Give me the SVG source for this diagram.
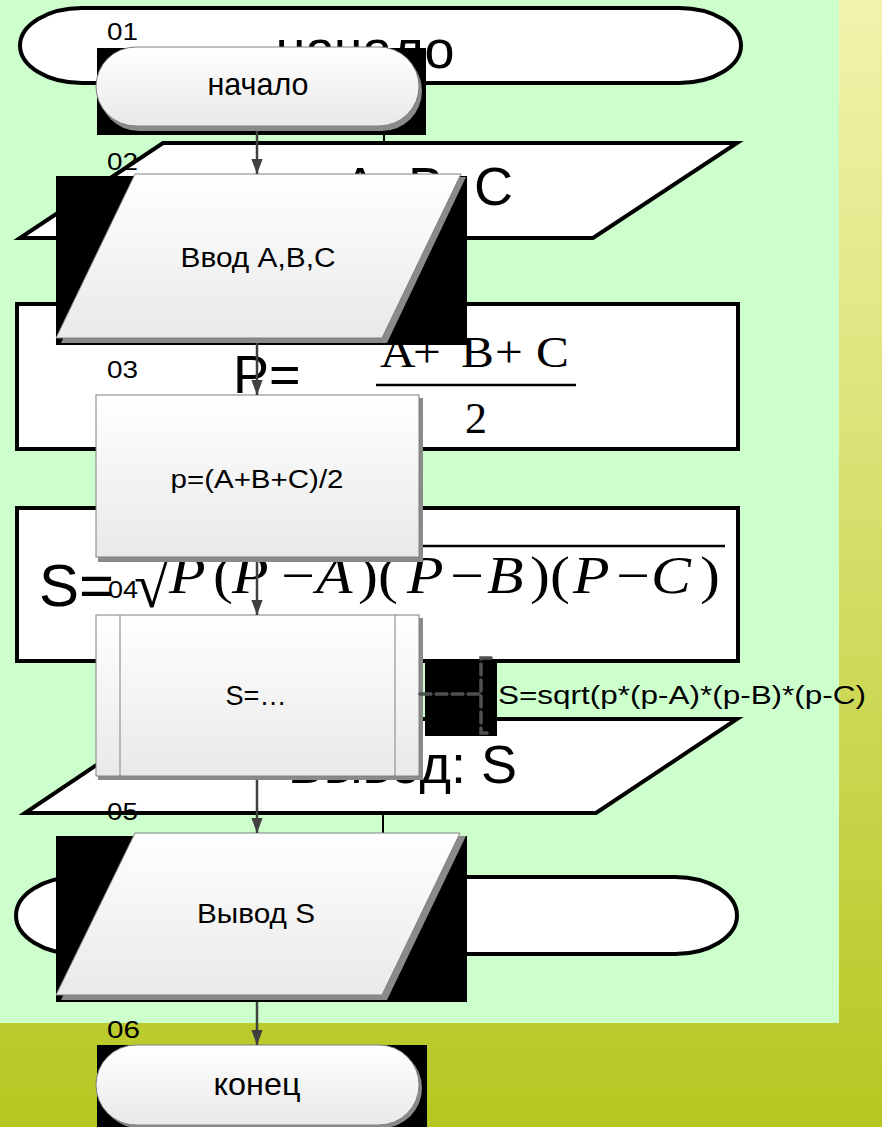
<svg xmlns="http://www.w3.org/2000/svg" width="882" height="1127" viewBox="0 0 882 1127">
<defs>
<linearGradient id="side" x1="0" y1="0" x2="0" y2="1">
<stop offset="0" stop-color="#f3f3ad"/>
<stop offset="1" stop-color="#b6c721"/>
</linearGradient>
<linearGradient id="face" x1="0" y1="0" x2="0" y2="1">
<stop offset="0" stop-color="#ffffff"/>
<stop offset="1" stop-color="#e9e9e9"/>
</linearGradient>
<marker id="arr" markerWidth="15" markerHeight="20" refX="20" refY="7.5" orient="auto" markerUnits="userSpaceOnUse" viewBox="0 0 20 15">
<path d="M0,0 L20,7.5 L0,15 Z" fill="#404040"/>
</marker>
<style>
.back{fill:#fff;stroke:#000;stroke-width:4}
.big{font-family:"Liberation Sans",Arial,sans-serif;font-size:54px;fill:#000}
.serif{font-family:"Liberation Serif","Times New Roman",serif;fill:#000}
.lbl{font-family:"Liberation Sans",Arial,sans-serif;font-size:24px;fill:#000}
.ft{font-family:"Liberation Sans",Arial,sans-serif;fill:#000;text-anchor:middle}
.face{fill:url(#face);stroke:#808080;stroke-width:1}
.shadow{fill:#8a8a8a}
.conn{stroke:#404040;stroke-width:2.5;fill:none}
.bconn{stroke:#000;stroke-width:2;fill:none}
.dash{stroke:#505050;stroke-width:3.5;fill:none;stroke-dasharray:11,5;stroke-linecap:round}
</style>
</defs>
<rect x="0" y="0" width="882" height="1127" fill="url(#side)"/>
<rect x="0" y="0" width="839" height="1023" fill="#ccffcc"/>

<g id="back-start">
<rect class="back" x="20" y="8" width="721" height="75" rx="62" ry="37.5"/>
<text class="big" x="365" y="68" text-anchor="middle">начало</text>
</g>
<g id="back-input">
<polygon class="back" points="163,143 737,143 593,238 20,238"/>
<text class="big" x="342" y="205">A, B, C</text>
</g>
<g id="back-p">
<rect class="back" x="17" y="304" width="721" height="145"/>
<text class="big" x="233" y="393">P=</text>
<text class="serif" y="367" font-size="44" transform="matrix(1.12,0,0,1,0,0)"><tspan x="339.3">A</tspan><tspan x="368.8">+</tspan><tspan x="411.6">B</tspan><tspan x="442">+</tspan><tspan x="478.6">C</tspan></text>
<line x1="376" y1="385" x2="576" y2="385" stroke="#000" stroke-width="2.5"/>
<text class="serif" x="476" y="433" font-size="44" text-anchor="middle">2</text>
</g>
<g id="back-s">
<rect class="back" x="17" y="508" width="721" height="153"/>
<text class="big" x="39" y="606" style="font-size:60px">S=</text>
<text class="serif" x="134" y="607" font-size="64">√</text>
<line x1="163" y1="546" x2="725" y2="546" stroke="#000" stroke-width="2.5"/>
<text class="serif" y="593" font-size="52" font-style="italic" transform="matrix(1.15,0,0,1,0,0)"><tspan x="147">P</tspan><tspan x="185.2" font-style="normal">(</tspan><tspan x="201.7">P</tspan><tspan x="244.3" font-style="normal">−</tspan><tspan x="274.8">A</tspan><tspan x="311.3" font-style="normal">)(</tspan><tspan x="353.9">P</tspan><tspan x="391.3" font-style="normal">−</tspan><tspan x="423.5">B</tspan><tspan x="460.9" font-style="normal">)(</tspan><tspan x="498.3">P</tspan><tspan x="535.7" font-style="normal">−</tspan><tspan x="566.1">C</tspan><tspan x="608.7" font-style="normal">)</tspan></text>
</g>
<g id="back-output">
<polygon class="back" points="165,719 737,719 596,813 25,813"/>
<text class="big" x="517" y="783" text-anchor="end">Вывод: S</text>
</g>
<g id="back-end">
<rect class="back" x="16" y="877" width="721" height="77" rx="62" ry="38.5"/>
</g>
<g id="back-connectors">
<line class="bconn" x1="384" y1="83" x2="384" y2="143"/>
<line class="bconn" x1="384" y1="238" x2="384" y2="304"/>
<line class="bconn" x1="384" y1="449" x2="384" y2="508"/>
<line class="bconn" x1="384" y1="661" x2="384" y2="719"/>
<line class="bconn" x1="383" y1="813" x2="383" y2="877"/>
</g>

<g id="node01">
<rect x="97" y="48" width="329" height="87" fill="#000"/>
<rect class="shadow" x="99" y="51" width="323" height="80" rx="40" ry="40"/>
<rect class="face" x="96" y="47" width="323" height="79" rx="40" ry="39.5"/>
<text class="ft" x="258" y="95" font-size="32" textLength="101" lengthAdjust="spacingAndGlyphs">начало</text>
</g>
<g id="node02">
<rect x="56" y="176" width="411" height="169" fill="#000"/>
<polygon class="shadow" points="140,177 466,177 387,343 61,343"/>
<polygon class="face" points="135,174 461,174 382,338 56,338"/>
<text class="ft" x="258" y="267" font-size="27" textLength="155" lengthAdjust="spacingAndGlyphs">Ввод A,B,C</text>
</g>
<g id="node03">
<rect class="shadow" x="98" y="398" width="325" height="164"/>
<rect class="face" x="96" y="395" width="323" height="162"/>
<text class="ft" x="257" y="488" font-size="25" textLength="173" lengthAdjust="spacingAndGlyphs">p=(A+B+C)/2</text>
</g>
<g id="node04">
<rect x="425" y="659" width="72" height="77" fill="#000"/>
<rect class="shadow" x="98" y="618" width="325" height="162"/>
<rect class="face" x="96" y="615" width="323" height="161"/>
<line x1="120" y1="615" x2="120" y2="776" stroke="#808080" stroke-width="1"/>
<line x1="395" y1="615" x2="395" y2="776" stroke="#808080" stroke-width="1"/>
<text class="ft" x="256" y="705" font-size="27" textLength="61" lengthAdjust="spacingAndGlyphs">S=…</text>
</g>
<g id="note04">
<path class="dash" d="M491,658 H481 V733 H488"/>
<path class="dash" d="M420,694 H481"/>
<text x="498" y="704" font-family="'Liberation Sans',Arial,sans-serif" font-size="26" fill="#000" textLength="368" lengthAdjust="spacingAndGlyphs">S=sqrt(p*(p-A)*(p-B)*(p-C)</text>
</g>
<g id="node05">
<rect x="56" y="836" width="411" height="166" fill="#000"/>
<polygon class="shadow" points="140,836 466,836 387,1000 61,1000"/>
<polygon class="face" points="135,833 460,833 382,995 56,995"/>
<text class="ft" x="256" y="923" font-size="28" textLength="118" lengthAdjust="spacingAndGlyphs">Вывод S</text>
</g>
<g id="node06">
<rect x="97" y="1045" width="330" height="82" fill="#000"/>
<rect class="shadow" x="99" y="1048" width="323" height="80" rx="40" ry="40"/>
<rect class="face" x="96" y="1045" width="323" height="80" rx="40" ry="40"/>
<text class="ft" x="257" y="1095" font-size="32" textLength="87" lengthAdjust="spacingAndGlyphs">конец</text>
</g>

<g id="connectors">
<line class="conn" x1="257" y1="131" x2="257" y2="174" marker-end="url(#arr)"/>
<line class="conn" x1="257" y1="343" x2="257" y2="395" marker-end="url(#arr)"/>
<line class="conn" x1="257" y1="562" x2="257" y2="615" marker-end="url(#arr)"/>
<line class="conn" x1="257" y1="780" x2="257" y2="833" marker-end="url(#arr)"/>
<line class="conn" x1="257" y1="1002" x2="257" y2="1045" marker-end="url(#arr)"/>
</g>

<g id="labels">
<text class="lbl" x="107" y="40" textLength="31" lengthAdjust="spacingAndGlyphs">01</text>
<text class="lbl" x="107" y="170" textLength="31" lengthAdjust="spacingAndGlyphs">02</text>
<text class="lbl" x="107" y="378" textLength="31" lengthAdjust="spacingAndGlyphs">03</text>
<text class="lbl" x="108" y="598" textLength="30" lengthAdjust="spacingAndGlyphs">04</text>
<text class="lbl" x="107" y="820" textLength="31" lengthAdjust="spacingAndGlyphs">05</text>
<text class="lbl" x="107" y="1038" textLength="33" lengthAdjust="spacingAndGlyphs">06</text>
</g>
</svg>
